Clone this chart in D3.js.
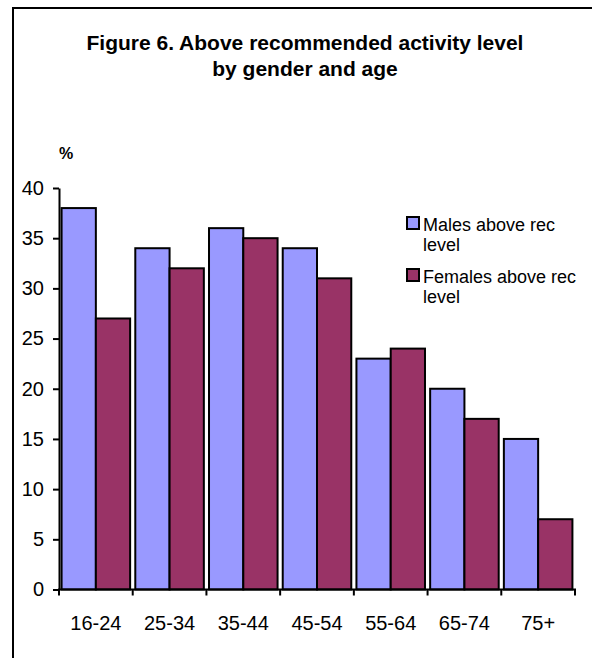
<!DOCTYPE html>
<html>
<head>
<meta charset="utf-8">
<script src="https://cdn.jsdelivr.net/npm/d3@7"></script>
<style>
  body { margin: 0; background: #fff; }
  svg { display: block; font-family: Arial, "Liberation Sans", sans-serif; }
</style>
</head>
<body>
<div id="chart"></div>
<script>
const ageGroups = ["16-24", "25-34", "35-44", "45-54", "55-64", "65-74", "75+"];
const seriesNames = ["Males above rec level", "Females above rec level"];
const males = [38, 34, 36, 34, 23, 20, 15];
const females = [27, 32, 35, 31, 24, 17, 7];
const yTicks = [0, 5, 10, 15, 20, 25, 30, 35, 40];

const width = 592;
const height = 658;
const colors = ["#9999ff", "#993366"];

const svg = d3.select("#chart").append("svg")
    .attr("width", width)
    .attr("height", height);

// outer chart frame (runs off the right and bottom edges)
svg.append("rect")
    .attr("x", 13)
    .attr("y", 8)
    .attr("width", 700)
    .attr("height", 800)
    .attr("fill", "none")
    .attr("stroke", "#000")
    .attr("stroke-width", 2);

// title
const title = svg.append("text")
    .attr("text-anchor", "middle")
    .attr("font-weight", "bold")
    .attr("font-size", 21);
title.append("tspan").attr("x", 305).attr("y", 50).text("Figure 6. Above recommended activity level");
title.append("tspan").attr("x", 305).attr("y", 76).text("by gender and age");

svg.append("text")
    .attr("x", 59)
    .attr("y", 159)
    .attr("font-weight", "bold")
    .attr("font-size", 16)
    .text("%");

const x0 = d3.scaleBand()
    .domain(ageGroups)
    .range([59, 575])
    .paddingInner(0.07)
    .paddingOuter(0.035);

const x1 = d3.scaleBand()
    .domain([0, 1])
    .range([0, x0.bandwidth()]);

const y = d3.scaleLinear()
    .domain([0, 40])
    .range([589.5, 188]);

const rows = ageGroups.map((g, i) => ({ group: g, values: [males[i], females[i]] }));

// bars
svg.append("g")
    .selectAll("g")
    .data(rows)
    .join("g")
    .attr("transform", d => `translate(${x0(d.group)},0)`)
    .selectAll("rect")
    .data(d => d.values.map((v, s) => ({ s, v })))
    .join("rect")
    .attr("x", d => x1(d.s))
    .attr("y", d => y(d.v))
    .attr("width", x1.bandwidth())
    .attr("height", d => y(0) - y(d.v))
    .attr("fill", d => colors[d.s])
    .attr("stroke", "#000")
    .attr("stroke-width", 2);

// y axis
const yAxis = svg.append("g")
    .attr("transform", "translate(59,0)")
    .call(d3.axisLeft(y).tickValues(yTicks).tickSize(6).tickPadding(9).tickSizeOuter(0));
yAxis.select(".domain").attr("stroke-width", 2);
yAxis.selectAll(".tick line").attr("stroke-width", 2);
yAxis.selectAll(".tick text")
    .attr("font-size", 20)
    .attr("font-family", "Arial, 'Liberation Sans', sans-serif")
    .attr("fill", "#000");

// x axis with ticks between categories
const step = x0.step();
const boundaries = d3.range(ageGroups.length + 1).map(i => 59 + i * step);
const xAxis = svg.append("g");
xAxis.append("line")
    .attr("x1", 58)
    .attr("x2", boundaries[boundaries.length - 1] + 1)
    .attr("y1", y(0))
    .attr("y2", y(0))
    .attr("stroke", "#000")
    .attr("stroke-width", 2);
xAxis.selectAll("line.tk")
    .data(boundaries)
    .join("line")
    .attr("class", "tk")
    .attr("x1", d => d)
    .attr("x2", d => d)
    .attr("y1", y(0))
    .attr("y2", y(0) + 6)
    .attr("stroke", "#000")
    .attr("stroke-width", 2);
xAxis.selectAll("text")
    .data(ageGroups)
    .join("text")
    .attr("x", d => x0(d) + x0.bandwidth() / 2)
    .attr("y", 630)
    .attr("text-anchor", "middle")
    .attr("font-size", 20)
    .text(d => d);

// legend
const legendLines = [["Males above rec", "level"], ["Females above rec", "level"]];
const legend = svg.append("g")
    .selectAll("g")
    .data(seriesNames)
    .join("g")
    .attr("transform", (d, i) => `translate(407,${217 + i * 52})`);
legend.append("rect")
    .attr("width", 12)
    .attr("height", 12)
    .attr("fill", (d, i) => colors[i])
    .attr("stroke", "#000")
    .attr("stroke-width", 2);
legend.append("text")
    .attr("font-size", 18)
    .selectAll("tspan")
    .data((d, i) => legendLines[i])
    .join("tspan")
    .attr("x", 16)
    .attr("y", (d, j) => 14 + j * 20)
    .text(d => d);
</script>
</body>
</html>
